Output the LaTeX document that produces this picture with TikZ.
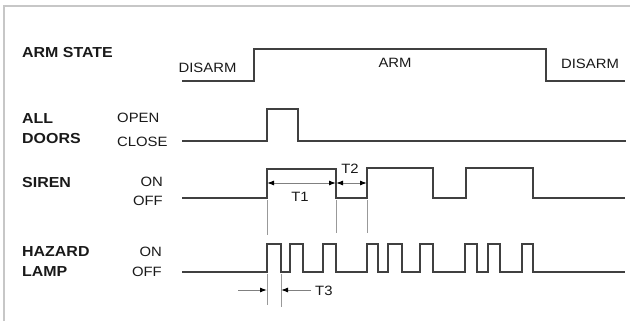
\documentclass[tikz,border=0pt]{standalone}
\usepackage{fontspec}
\setmainfont{Liberation Sans}[FakeStretch=1.1]
\usetikzlibrary{arrows.meta}
\begin{document}
\begin{tikzpicture}[x=1pt,y=-1pt,
  wave/.style={line width=1.5pt, draw=black!75, line join=miter},
  frame/.style={line width=1.5pt, draw=black!22},
  ext/.style={line width=0.6pt, draw=black!40},
  dim/.style={line width=1pt, draw=black!50, {Latex[length=7pt,width=5pt,black]}-{Latex[length=7pt,width=5pt,black]}},
  arr/.style={line width=1pt, draw=black!50, -{Latex[length=7pt,width=5pt,black]}},
  lbl/.style={font=\fontsize{14.5}{16}\selectfont\bfseries, text=black!90, anchor=west, inner sep=0pt},
  txt/.style={font=\fontsize{13.5}{15}\selectfont, text=black!90, inner sep=0pt}]
\useasboundingbox (0,0) rectangle (631,321);
\draw[frame] (4,321) -- (4,6) -- (630,6);

% waveforms
\draw[wave] (182,81) -- (254,81) -- (254,49) -- (546,49) -- (546,81) -- (625,81);
\draw[wave] (182,141) -- (267,141) -- (267,109) -- (298,109) -- (298,141) -- (626,141);
\draw[wave] (182,198) -| (267,169) -| (336,198) -| (367,168) -| (433,198) -| (466,168) -| (533,198) -- (625,198);
\draw[wave] (182,272) -| (267,244) -| (281,272) -| (290,244) -| (303,272) -| (323,244) -| (336,272)
  -| (367,244) -| (378,272) -| (388,244) -| (402,272) -| (420,244) -| (433,272)
  -| (465,244) -| (477,272) -| (488,244) -| (500,272) -| (522,244) -| (533,272) -- (625,272);

% extension lines
\draw[ext] (267,200) -- (267,235);
\draw[ext] (336,200) -- (336,233);
\draw[ext] (367,200) -- (367,233);
\draw[ext] (267,274) -- (267,305);
\draw[ext] (281,274) -- (281,307);

% dimensions
\coordinate (t1a) at (267,183);
\coordinate (t1b) at (336,183);
\coordinate (t2b) at (367,183);
\draw[dim] (t1a) -- (t1b);
\draw[dim] (t1b) -- (t2b);
\coordinate (t3l) at (238,290);
\coordinate (t3a) at (267,290);
\coordinate (t3b) at (281,290);
\coordinate (t3r) at (311,290);
\draw[arr] (t3l) -- (t3a);
\draw[arr] (t3r) -- (t3b);

% labels
\node[lbl] (armstate) at (22,53) {ARM STATE};
\node[txt] (disarm1) at (207.5,68) {DISARM};
\node[txt] (arm) at (395,63) {ARM};
\node[txt] (disarm2) at (590,64) {DISARM};
\node[lbl] (all) at (22,119) {ALL};
\node[lbl] (doors) at (22,139) {DOORS};
\node[txt, anchor=west] (open) at (117,118) {OPEN};
\node[txt, anchor=west] (close) at (117,142) {CLOSE};
\node[lbl] (siren) at (22,183) {SIREN};
\node[txt, anchor=east] (son) at (163,182) {ON};
\node[txt, anchor=east] (soff) at (163,201) {OFF};
\node[lbl] (hazard) at (22,252) {HAZARD};
\node[lbl] (lamp) at (22,272) {LAMP};
\node[txt, anchor=east] (hon) at (162,252) {ON};
\node[txt, anchor=east] (hoff) at (162,272) {OFF};
\node[txt] (t1) at (300,197) {T1};
\node[txt] (t2) at (350,169) {T2};
\node[txt, anchor=west] (t3) at (315,291) {T3};
\end{tikzpicture}
\end{document}
